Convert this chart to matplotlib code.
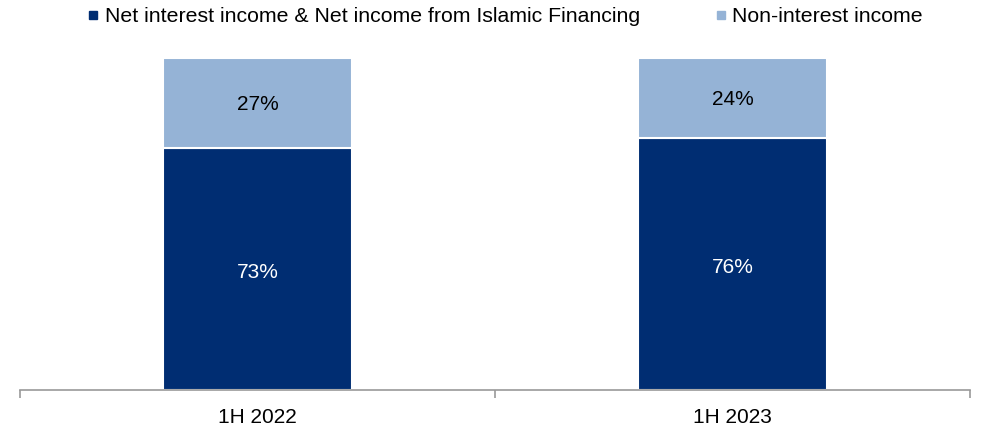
import matplotlib.pyplot as plt
from matplotlib.lines import Line2D

plt.rcParams['font.family'] = ['Liberation Sans', 'DejaVu Sans']

periods = ["1H 2022", "1H 2023"]
net_interest = [73, 76]
non_interest = [27, 24]
series_names = ["Net interest income & Net income from Islamic Financing",
                "Non-interest income"]

dark = "#002D72"
light = "#95B3D6"
fs = 15

fig = plt.figure(figsize=(9.82, 4.28), dpi=100)
ax = fig.add_axes([20 / 982, 38 / 428, 950 / 982, 332 / 428])

x = range(len(periods))
bars1 = ax.bar(x, net_interest, width=0.396, color=dark, edgecolor="white", linewidth=1.5)
bars2 = ax.bar(x, non_interest, width=0.396, bottom=net_interest, color=light,
               edgecolor="white", linewidth=1.5)

for b, v in zip(bars1, net_interest):
    ax.text(b.get_x() + b.get_width() / 2, v / 2 - 1, f"{v}%", ha="center", va="center",
            color="white", fontsize=fs)
for b, base, v in zip(bars2, net_interest, non_interest):
    ax.text(b.get_x() + b.get_width() / 2, base + v / 2 - 0.5, f"{v}%", ha="center",
            va="center", color="black", fontsize=fs)

ax.set_xlim(-0.5, 1.5)
ax.set_ylim(0, 100)
for s in ["left", "right", "top"]:
    ax.spines[s].set_visible(False)
ax.spines["bottom"].set_color("#999999")
ax.spines["bottom"].set_linewidth(1.2)
ax.set_yticks([])

# category boundaries as ticks, names in between
ax.set_xticks([-0.5, 0.5, 1.5])
ax.set_xticklabels([])
ax.tick_params(axis="x", which="major", length=6, color="#999999", width=1.2)
ax.set_xticks(list(x), minor=True)
ax.set_xticklabels(periods, minor=True, fontsize=fs)
ax.tick_params(axis="x", which="minor", length=0, pad=13)

handles = [Line2D([], [], marker="s", linestyle="none", color=c, markersize=6)
           for c in (dark, light)]
fig.legend(handles, series_names, loc="center", bbox_to_anchor=(0.514, 1 - 17 / 428),
           ncol=2, frameon=False, fontsize=15.3, handlelength=0.6, handletextpad=0.25,
           columnspacing=3.5, borderaxespad=0)

fig.savefig("out.png", dpi=100)
